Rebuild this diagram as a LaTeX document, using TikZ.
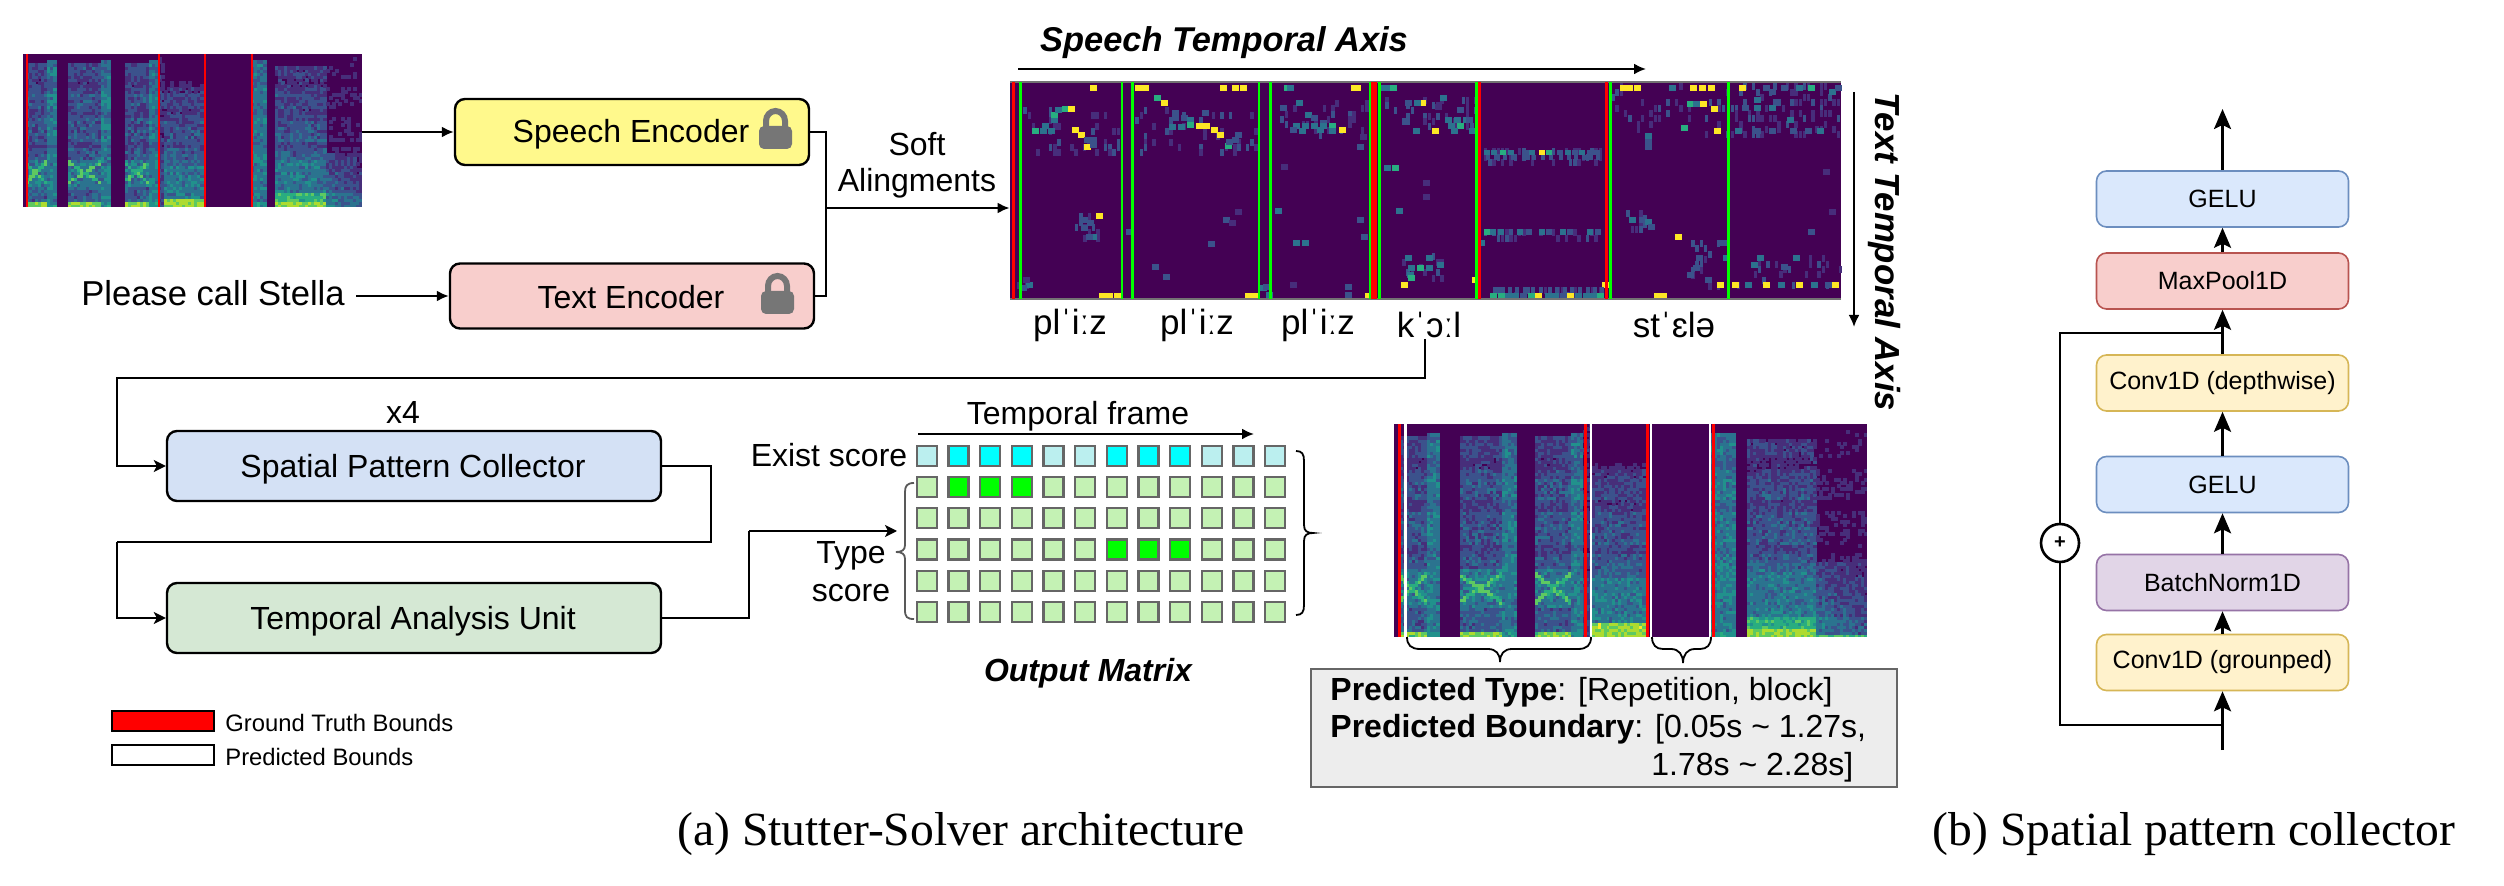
\documentclass[tikz,border=0pt]{standalone}
\usepackage{fontspec}
\setmainfont{Liberation Sans}
\newfontfamily\capfont{Liberation Serif}
\usetikzlibrary{arrows.meta}
\definecolor{spv0}{HTML}{440154}\definecolor{spv1}{HTML}{472D7B}\definecolor{spv2}{HTML}{3B528B}
\definecolor{spv3}{HTML}{2C728E}\definecolor{spv4}{HTML}{21918C}\definecolor{spv5}{HTML}{28AE80}
\definecolor{spv6}{HTML}{5EC962}\definecolor{spv7}{HTML}{ADDC30}\definecolor{spv8}{HTML}{FDE725}
\colorlet{hmy}{spv8}\colorlet{hmg}{spv5}\colorlet{hmt}{spv3}\colorlet{hmb}{spv2}\colorlet{hmd}{spv1}
\definecolor{lockgray}{HTML}{767676}
\definecolor{exl}{HTML}{BBEFEF}\definecolor{tyl}{HTML}{C4F2B4}
\definecolor{brcyan}{HTML}{00FFFF}\definecolor{brgreen}{HTML}{00FF00}\definecolor{brred}{HTML}{FF0000}
\newcount\sprand \newcount\sptmp \newcount\splvl \newcount\spk \newcount\spq \newcount\spp \newcount\spr \newcount\spb \newcount\spt \newcount\spa \newcount\spc
\global\sprand=4711
\makeatletter
\def\spinvoke#1{\pgfsys@invoke{#1}}
\makeatother
\expandafter\def\csname spc1\endcsname{.28 .18 .48 rg }
\expandafter\def\csname spc2\endcsname{.23 .32 .55 rg }
\expandafter\def\csname spc3\endcsname{.17 .45 .56 rg }
\expandafter\def\csname spc4\endcsname{.13 .57 .55 rg }
\expandafter\def\csname spc5\endcsname{.16 .68 .50 rg }
\expandafter\def\csname spc6\endcsname{.37 .79 .38 rg }
\expandafter\def\csname spc7\endcsname{.68 .86 .19 rg }
\expandafter\def\csname spc8\endcsname{.99 .91 .15 rg }
\def\spnext{\sptmp=\sprand \multiply\sptmp 1103 \advance\sptmp 12345 \global\sprand=\sptmp
  \divide\sptmp 32768 \multiply\sptmp 32768 \global\advance\sprand-\sptmp}
\def\spsyl#1#2{\spt=\numexpr 100*(\spp-#1)/(#2-#1)\relax}
\def\spkind{\spk=0 \spt=0
  \ifnum\spp>13 \spk=1 \spsyl{13}{72}\fi \ifnum\spp>72 \spk=2 \fi \ifnum\spp>98 \spk=0 \fi
  \ifnum\spp>140 \spk=1 \spsyl{140}{232}\fi \ifnum\spp>232 \spk=2 \fi \ifnum\spp>262 \spk=0 \fi
  \ifnum\spp>302 \spk=1 \spsyl{302}{375}\fi \ifnum\spp>375 \spk=2 \fi \ifnum\spp>400 \spk=3 \fi
  \ifnum\spp>420 \spk=4 \fi \ifnum\spp>535 \spk=0 \fi \ifnum\spp>675 \spk=2 \fi
  \ifnum\spp>725 \spk=0 \fi \ifnum\spp>750 \spk=5 \fi \ifnum\spp>895 \spk=6 \fi
  \spa=\numexpr 175+13*\spt/10\relax \spc=\numexpr 305-13*\spt/10\relax}
\def\spnear#1{\ifnum\numexpr\spq-#1\relax>-13 \ifnum\numexpr\spq-#1\relax<13 \spb=54 \fi\fi}
\def\spcell{\spnext \spr=\sprand \divide\spr 328 \spb=0
  \ifcase\spk
  \or
    \ifnum\spq<40 \spb=62 \else\ifnum\spq<150 \spb=21 \else\ifnum\spq<330 \spb=30
      \spnear\spa \spnear\spc
    \else\ifnum\spq<950 \spb=19 \fi\fi\fi\fi
  \or
    \ifnum\spq<40 \spb=40 \else\ifnum\spq<970 \spb=31 \fi\fi
  \or
    \ifnum\spq<300 \spb=16 \else\spb=11 \fi
  \or
    \ifnum\spq<75 \spb=66 \else\ifnum\spq<290 \spb=30 \else\ifnum\spq<830 \spb=\numexpr 23-(\spq-290)/50\relax \fi\fi\fi
  \or
    \ifnum\spq<45 \spb=66 \else\ifnum\spq<110 \spb=50 \else\ifnum\spq<330 \spb=29 \else\ifnum\spq<940 \spb=\numexpr 22-(\spq-330)/70\relax \fi\fi\fi\fi
  \or
    \ifnum\spq<20 \spb=56 \else\ifnum\spq<110 \spb=\numexpr 31-(\spp-895)/10\relax \else\ifnum\spq<360 \spb=\numexpr 24-(\spp-895)/12-(\spq-110)/30\relax \fi\fi\fi
    \ifnum\spb<1 \spb=1 \fi
  \fi
  \ifnum\spb=0 \splvl=0 \else
    \sptmp=\spq \divide\sptmp 200 \multiply\sptmp 200 \sptmp=\numexpr\spq-\sptmp\relax
    \splvl=\numexpr\spb+\spr/6-8\relax
    \ifnum\spq>330 \ifnum\sptmp<50 \advance\splvl-5 \fi\fi
    \ifnum\spq>750 \advance\splvl-3 \fi
    \splvl=\numexpr\splvl/10\relax
    \ifnum\splvl<0 \splvl=0 \fi \ifnum\splvl>8 \splvl=8 \fi
  \fi}
% #1 left px, #2 top px, #3 width px, #4 height px, #5 columns, #6 rows
% cells go out as one compact literal per column, in tenths of a pixel
\def\spectro#1#2#3#4#5#6{%
  \fill[spv0] (#1,#2) rectangle ++(#3,#4);
  \edef\spcw{\the\numexpr 10*#3*5/(#5*4)+1\relax}%
  \edef\spch{\the\numexpr 10*#4*5/(#6*4)+1\relax}%
  \foreach \c in {1,...,#5}{%
    \spp=\numexpr 1000*\c/#5\relax \spkind
    \xdef\spbuf{q .049813 0 0 -.049813 0 0 cm \the\numexpr 10*#1\relax\space \the\numexpr 10*#2\relax\space \the\numexpr 10*#3\relax\space \the\numexpr 10*#4\relax\space re W n }%
    \edef\spx{\the\numexpr 10*#1+(\c-1)*10*#3/#5\relax}%
    \foreach \r in {1,...,#6}{%
      \spq=\numexpr 1000*\r/#6\relax \spcell
      \ifnum\splvl>0
        \xdef\spbuf{\spbuf\csname spc\the\splvl\endcsname\spx\space\the\numexpr 10*(#2+#4)-\r*10*#4/#6\relax\space\spcw\space\spch\space re f }%
      \fi
    }%
    \spinvoke{\spbuf Q}%
  }}
% faint cells of the alignment map: u0 u1 v0 v1 (crop coordinates), percent
\def\hmnoise#1#2#3#4#5{%
  \foreach \uu in {#1,\numexpr#1+7\relax,...,#2}{%
    \foreach \vv in {#3,\numexpr#3+16\relax,...,#4}{%
      \spnext \spr=\sprand \divide\spr 328
      \ifnum\spr<#5
        \ifnum\spr<\numexpr#5/3\relax \def\hc{hmb}\else\def\hc{hmd}\fi
        \fill[\hc] ({990+\uu/1.65},{20+\vv/3}) rectangle ++(3.5,7);
      \fi
    }%
  }}
\tikzset{
  lbox/.style={draw=black,line width=1.2pt,rounded corners=5pt,inner sep=0pt},
  rbox/.style={line width=0.8pt,rounded corners=5pt,inner sep=0pt,minimum width=126pt,minimum height=28pt,font=\fontsize{12.5}{14}\selectfont},
  lline/.style={line width=1.1pt,black},
  larrow/.style={lline,-{Latex[length=6pt,width=5.5pt]}},
  tarrow/.style={lline,-{Stealth[length=6pt,width=6pt,inset=1.5pt]}},
  rarrow/.style={line width=1.3pt,black,-{Stealth[length=10pt,width=8.5pt,inset=2pt]}},
  rline/.style={line width=1.3pt,black},
  txt/.style={inner sep=0pt,font=\fontsize{16}{19}\selectfont},
  phon/.style={inner sep=0pt,font=\fontsize{17.5}{20}\selectfont},
  bracel/.style={line width=0.9pt,#1},
  sq/.style={draw=black!60,line width=1.2pt},
  redline/.style={brred,line width=1.5pt},
  whtline/.style={white,line width=1.2pt},
}
\newcommand{\lockicon}[2]{% left px, top px
  \draw[lockgray,line width=3pt] (#1+7,#2+20) -- (#1+7,#2+12) arc[start angle=180,end angle=0,x radius=9.5,y radius=-10] -- (#1+26,#2+20);
  \fill[lockgray,rounded corners=2.5pt] (#1,#2+17) rectangle (#1+33,#2+40);
}
\begin{document}
\begin{tikzpicture}[x=0.5pt,y=-0.5pt]
\useasboundingbox (0,0) rectangle (2504,886);
\fill[white] (0,0) rectangle (2504,886);
%--- top-left spectrogram
\spectro{23}{54}{339}{153}{113}{51}
\node[inner sep=0pt,minimum width=169.5pt,minimum height=76.5pt] (specA) at (192.5,130.5) {};
\foreach \x in {27,159,205,252} \draw[brred,line width=0.7pt] (\x,54) -- (\x,207);
%--- encoders
\node[lbox,fill=yellow!45!white,minimum width=177pt,minimum height=33pt] (speech) at (632,132) {};
\node[txt] (speecht) at (631,134) {Speech Encoder};
\lockicon{759}{109}
\node[lbox,fill={rgb,255:red,248;green,206;blue,204},minimum width=182pt,minimum height=32.5pt] (textenc) at (632,296) {};
\node[txt] (textt) at (631,297) {Text Encoder};
\lockicon{761}{274}
\node[inner sep=0pt,font=\fontsize{17.3}{20}\selectfont] (input) at (213,293) {Please call Stella};
\draw[larrow] ([xshift=0pt]specA.east |- speech.west) -- (speech.west);
\draw[larrow] ([xshift=5.5pt]input.east |- textenc.west) -- (textenc.west);
\coordinate (jn) at (826,208);
\draw[lline] (speech.east) -| (jn);
\draw[lline] (textenc.east) -| (jn);
\node[txt] (soft) at (917,144) {Soft};
\node[txt] (alin) at (917,183) {Alingments};
%--- heat map
\fill[spv0] (1010,82) rectangle (1841,299);
\node[inner sep=0pt,minimum width=415.5pt,minimum height=108.5pt] (hm) at (1425.5,190.5) {};
\hmnoise{55}{215}{260}{390}{14}
\hmnoise{240}{440}{260}{390}{14}
\hmnoise{465}{620}{240}{340}{16}
\hmnoise{645}{800}{230}{340}{16}
\hmnoise{1025}{1215}{190}{345}{12}
\hmnoise{1222}{1400}{190}{340}{30}
\hmnoise{1150}{1215}{660}{790}{18}
\hmnoise{1225}{1400}{690}{800}{10}
\hmnoise{680}{745}{700}{770}{25}
\hmnoise{140}{180}{580}{660}{25}
\hmnoise{1050}{1090}{570}{630}{30}
\hmnoise{30}{60}{770}{815}{30}
\hmnoise{815}{1005}{385}{420}{40}
\hmnoise{830}{1005}{800}{815}{40}
\hmnoise{815}{1005}{628}{642}{30}
\foreach \u/\v/\c in {165/204/y,70/332/g,82/332/t,95/332/t,85/318/t,100/300/t,100/285/g,108/270/t,118/268/g,128/268/y,135/330/y,145/345/y,155/380/y,165/360/b,155/360/b,165/375/b,150/600/b,160/610/b,175/588/y,165/652/t,158/652/b,150/625/b,60/795/t,50/805/b,55/780/d,225/635/b,
180/828/y,192/828/y,204/828/y,
240/204/y,250/204/y,270/235/g,282/250/y,300/280/b,300/295/b,315/295/b,325/300/t,350/280/b,295/320/t,310/320/t,325/315/g,340/318/y,352/318/y,365/330/y,375/345/y,388/378/g,400/360/b,390/365/b,405/345/b,380/204/y,400/204/y,412/204/y,385/600/b,395/610/d,405/575/d,360/672/b,268/740/b,285/770/b,
420/828/y,432/828/y,445/805/t,455/825/t,450/800/b,
485/204/g,490/204/t,600/204/y,595/204/y,505/250/t,478/265/b,520/285/t,530/295/b,545/310/b,500/318/t,515/318/t,530/318/t,545/318/t,560/318/g,575/330/y,560/332/t,495/330/b,510/332/t,540/330/t,605/380/b,610/350/d,480/440/d,470/572/t,605/600/b,612/650/b,500/668/t,515/668/t,495/795/d,585/800/b,585/825/b,618/828/y,
650/204/t,660/204/g,640/204/t,650/443/t,663/443/g,685/250/b,708/250/y,700/250/t,742/235/t,735/260/d,770/270/b,750/300/t,765/300/t,780/300/t,755/318/t,770/318/g,785/300/b,698/332/t,730/332/y,790/332/t,760/332/t,715/490/d,715/530/d,670/572/t,685/715/t,720/715/t,690/745/t,705/745/g,720/745/t,738/735/t,688/765/t,690/775/g,678/795/y,795/780/y,805/668/t,
1010/795/y,1040/204/y,1050/204/y,1062/204/y,1120/204/t,1155/204/y,1170/204/y,1185/204/y,1150/252/g,1160/252/t,1172/252/y,1190/268/y,1140/325/g,1195/332/y,1080/347/t,1080/365/b,1080/380/b,1055/600/t,1070/600/b,1080/605/t,1085/620/b,1130/652/y,1105/828/y,1095/828/y,1165/715/b,1160/745/b,1150/765/b,1205/668/b,1210/715/t,1180/780/b,1200/795/y,
1235/204/y,1275/204/b,1285/215/b,1305/204/b,1330/204/t,1350/204/g,1385/215/t,1395/204/b,1260/240/t,1240/265/b,1260/265/t,1285/265/t,1315/300/t,1230/332/t,1260/332/b,1285/332/b,1320/332/b,1345/332/b,1365/332/t,1375/455/d,1385/575/d,1350/635/b,1265/715/t,1255/735/t,1325/715/t,1225/795/y,1245/795/t,1275/795/y,1300/795/t,1330/795/y,1355/795/t,1390/795/y,1378/795/b,1305/740/b}
  {\fill[hm\c] ({990+\u/1.65},{20+\v/3-3}) rectangle ++(7,6);}
\foreach \u/\c in {815/t,827/t,842/g,855/t,880/b,890/t,905/y,918/g,935/b,948/t,960/b,972/t,985/b,996/b}
  {\fill[hm\c] ({990+\u/1.65},{20+395/3-2}) rectangle ++(6,5);
   \fill[hmb] ({990+(\u+4)/1.65},{20+410/3-2}) rectangle ++(4,5);}
\foreach \u/\c in {815/g,825/t,838/t,870/t,885/b,905/t,918/b,940/t,952/b,985/t,998/b}
  {\fill[hm\c] ({990+\u/1.65},{20+635/3-3}) rectangle ++(6,6);}
\foreach \u/\c in {825/g,838/g,850/t,862/t,875/b,888/g,900/y,915/t,928/t,940/b,952/y,965/t,978/t,990/t,1002/g}
  {\fill[hm\c] ({990+\u/1.65},{20+827/3-3}) rectangle ++(7,6);
   \fill[hmb] ({990+(\u+5)/1.65},{20+810/3-3}) rectangle ++(4,6);}
\draw[black!55,line width=0.6pt] (1010,82) -- (1841,82) (1010,299) -- (1841,299);
\foreach \u in {38,631,636,808,1017} \draw[brred,line width=1.5pt] ({990+\u/1.65},82) -- ({990+\u/1.65},299);
\foreach \u in {50,218,235,444,463,627,643,803,1024,1218} \draw[brgreen,line width=1.3pt] ({990+\u/1.65},82) -- ({990+\u/1.65},299);
\draw[larrow] (jn) -- (hm.west |- jn);
%--- axis labels
\node[inner sep=0pt,font=\fontsize{17.2}{21}\selectfont\bfseries\itshape] (sta) at (1224,43) {Speech Temporal Axis};
\coordinate (sa0) at (1018,69); \coordinate (sa1) at (1646,69);
\draw[larrow] (sa0) -- (sa1);
\node[inner sep=0pt,rotate=-90,font=\fontsize{17.4}{21}\selectfont\bfseries\itshape] (tta) at (1884,252) {Text Temporal Axis};
\coordinate (ta0) at (1854,92); \coordinate (ta1) at (1854,327);
\draw[larrow] (ta0) -- (ta1);
%--- phonemes
\node[phon] (p1) at (1070,325) {plˈiːz};
\node[phon] (p2) at (1197,325) {plˈiːz};
\node[phon] (p3) at (1318,325) {plˈiːz};
\node[phon] (p4) at (1429,325) {kˈɔːl};
\node[phon] (p5) at (1674,325) {stˈɛlə};
%--- lower-left blocks
\node[lbox,fill={rgb,255:red,212;green,225;blue,245},minimum width=247pt,minimum height=35pt] (spatial) at (414,466) {};
\node[txt] (spatialt) at (413,469) {Spatial Pattern Collector};
\node[txt] (xfour) at (403,412) {x4};
\node[lbox,fill={rgb,255:red,213;green,232;blue,212},minimum width=247pt,minimum height=35pt] (temporal) at (414,618) {};
\node[txt] (temporalt) at (413,621) {Temporal Analysis Unit};
\coordinate (pkb) at (1425,339); \coordinate (c1) at (1425,378); \coordinate (c2) at (117,378);
\draw[tarrow] (pkb) -- (c1) -- (c2) |- (spatial.west);
\coordinate (c3) at (711,542); \coordinate (c4) at (117,542);
\draw[lline] (spatial.east) -| (c3) -- (c4);
\draw[tarrow] (c4) |- (temporal.west);
\coordinate (c5) at (749,531); \coordinate (tgt) at (897,531);
\draw[lline] (temporal.east) -| (c5);
\draw[tarrow] (c5) -- (tgt);
%--- legend
\fill[brred] (112,711) rectangle (214,731); \draw[black,line width=1pt] (112,711) rectangle (214,731);
\draw[black,line width=1pt] (112,745) rectangle (214,765);
\node[inner sep=0pt,anchor=west,font=\fontsize{11.9}{14}\selectfont] (lg1) at (225,723) {Ground Truth Bounds};
\node[inner sep=0pt,anchor=west,font=\fontsize{11.9}{14}\selectfont] (lg2) at (225,757) {Predicted Bounds};
%--- output matrix
\node[txt] (tf) at (1078,416) {Temporal frame};
\coordinate (tf0) at (918,434); \coordinate (tf1) at (1254,434);
\draw[larrow] (tf0) -- (tf1);
\node[txt] (exs) at (829,455) {Exist score};
\node[txt] (ty) at (851,556) {Type};
\node[txt] (sc) at (851,593) {score};
\foreach \i in {0,...,11}{
  \pgfmathsetmacro\xx{917+31.64*\i}
  \fill[exl] (\xx,446) rectangle ++(20,20); \draw[sq] (\xx,446) rectangle ++(20,20);
  \foreach \j in {0,...,4}{
    \pgfmathsetmacro\yy{477+31.25*\j}
    \fill[tyl] (\xx,\yy) rectangle ++(20,20); \draw[sq] (\xx,\yy) rectangle ++(20,20);
  }
}
\foreach \i in {1,2,3,6,7,8}{ \pgfmathsetmacro\xx{917+31.64*\i}
  \fill[brcyan] (\xx,446) rectangle ++(20,20); \draw[sq] (\xx,446) rectangle ++(20,20);}
\foreach \i in {1,2,3}{ \pgfmathsetmacro\xx{917+31.64*\i}
  \fill[brgreen] (\xx,477) rectangle ++(20,20); \draw[sq] (\xx,477) rectangle ++(20,20);}
\foreach \i in {6,7,8}{ \pgfmathsetmacro\xx{917+31.64*\i}
  \fill[brgreen] (\xx,539.5) rectangle ++(20,20); \draw[sq] (\xx,539.5) rectangle ++(20,20);}
\draw[bracel=black!65] (914,483) .. controls (907,483) and (905,486) .. (905,492) -- (905,545) .. controls (905,550) and (902,552) .. (896,552) .. controls (902,552) and (905,554) .. (905,559) -- (905,610) .. controls (905,617) and (907,619) .. (914,619);
\draw[bracel=black] (1296,451) .. controls (1302,451) and (1304,454) .. (1304,461) -- (1304,525) .. controls (1304,531) and (1307,533) .. (1313,533) .. controls (1307,533) and (1304,535) .. (1304,541) -- (1304,605) .. controls (1304,612) and (1302,615) .. (1296,615);
\node[inner sep=0pt,font=\fontsize{16}{19}\selectfont\bfseries\itshape] (omx) at (1088,673) {Output Matrix};
%--- lower spectrogram
\spectro{1394}{424}{473}{213}{158}{71}
\foreach \x in {1399,1585,1647.5,1713} \draw[redline] (\x,424) -- (\x,637);
\foreach \x in {1405.5,1591,1651,1710} \draw[whtline] (\x,424) -- (\x,637);
\draw[bracel=black] (1407,637) .. controls (1407,645) and (1411,649) .. (1420,649) -- (1488,649) .. controls (1496,649) and (1500,654) .. (1500,662) .. controls (1500,654) and (1504,649) .. (1512,649) -- (1578,649) .. controls (1587,649) and (1591,645) .. (1591,637);
\draw[bracel=black] (1652,637) .. controls (1652,645) and (1656,649) .. (1663,649) -- (1671,649) .. controls (1679,649) and (1683,655) .. (1683,663) .. controls (1683,655) and (1687,649) .. (1695,649) -- (1700,649) .. controls (1707,649) and (1711,645) .. (1711,637);
\draw[black!60,fill=black!7,line width=1.2pt] (1311,669) rectangle (1897,787);
\node[txt,anchor=west] (pt) at (1330,692) {\textbf{Predicted Type}: [Repetition, block]};
\node[txt,anchor=west] (pb) at (1330,729) {\textbf{Predicted Boundary}: [0.05s \textasciitilde{} 1.27s,};
\node[txt,anchor=west] (pc) at (1651,767) {1.78s \textasciitilde{} 2.28s]};
%--- spatial pattern collector
\node[rbox,fill={rgb,255:red,218;green,232;blue,252},draw={rgb,255:red,108;green,142;blue,191}] (g1) at (2222.5,199) {GELU};
\node[rbox,fill={rgb,255:red,248;green,206;blue,204},draw={rgb,255:red,184;green,84;blue,80}] (mp) at (2222.5,281) {MaxPool1D};
\node[rbox,fill={rgb,255:red,255;green,242;blue,204},draw={rgb,255:red,214;green,182;blue,86}] (cd) at (2222.5,383) {Conv1D (depthwise)};
\node[rbox,fill={rgb,255:red,218;green,232;blue,252},draw={rgb,255:red,108;green,142;blue,191}] (g2) at (2222.5,484.5) {GELU};
\node[rbox,fill={rgb,255:red,225;green,213;blue,231},draw={rgb,255:red,150;green,115;blue,166}] (bn) at (2222.5,582.5) {BatchNorm1D};
\node[rbox,fill={rgb,255:red,255;green,242;blue,204},draw={rgb,255:red,214;green,182;blue,86}] (cg) at (2222.5,662.5) {Conv1D (grounped)};
\coordinate (bot) at (2222.5,750); \coordinate (topc) at (2222.5,109);
\coordinate (fbb) at (2222.5,725); \coordinate (fbt) at (2222.5,333);
\draw[rarrow] (bot) -- (cg.south);
\draw[rarrow] (cg.north) -- (bn.south);
\draw[rarrow] (bn.north) -- (g2.south);
\draw[rarrow] (g2.north) -- (cd.south);
\draw[rarrow] (cd.north) -- (mp.south);
\draw[rarrow] (mp.north) -- (g1.south);
\draw[rarrow] (g1.north) -- (topc);
\node[circle,draw=black,line width=1.3pt,fill=white,minimum size=19pt,inner sep=0pt,font=\fontsize{10}{12}\selectfont\bfseries] (plus) at (2060,543) {+};
\draw[rline] (fbb) -| (plus.south);
\draw[rline] (plus.north) |- (fbt);
%--- captions
\node[inner sep=0pt,font=\capfont\fontsize{23.8}{28}\selectfont] (capa) at (961,834) {(a) Stutter-Solver architecture};
\node[inner sep=0pt,font=\capfont\fontsize{23.8}{28}\selectfont] (capb) at (2194,834) {(b) Spatial pattern collector};
\end{tikzpicture}
\end{document}
